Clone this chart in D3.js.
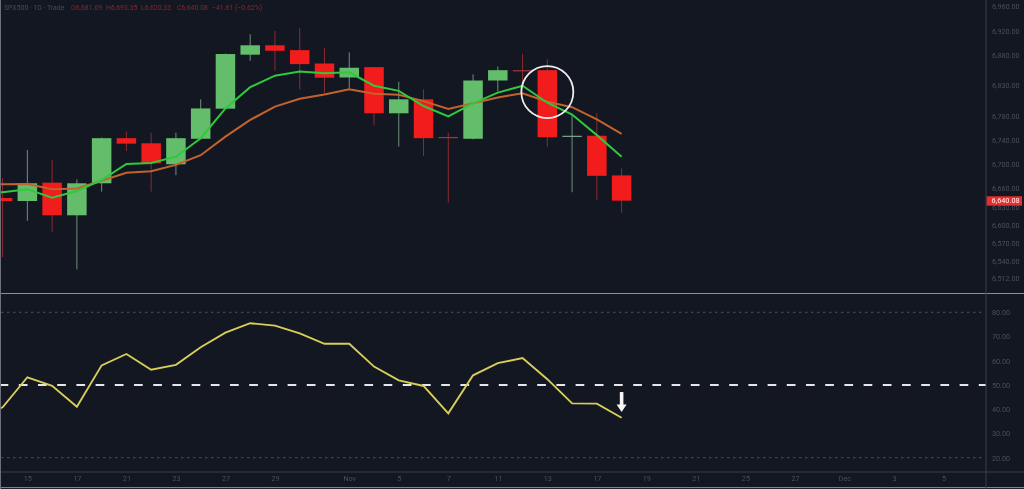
<!DOCTYPE html>
<html>
<head>
<meta charset="utf-8">
<script src="https://cdn.jsdelivr.net/npm/d3@7"></script>
<style>
  html, body { margin: 0; padding: 0; background: #131722; overflow: hidden; }
  svg { display: block; font-family: Roboto, "Liberation Sans", sans-serif; filter: blur(0.4px); }
</style>
</head>
<body>
<svg id="chart" width="1024" height="489"></svg>
<script>
const opens  = [6644.5, 6639.5, 6669.7, 6616, 6668.7, 6743, 6734.6, 6700, 6742, 6791.6, 6880.5, 6896, 6888, 6866, 6843, 6860, 6784, 6807, 6745, 6742, 6838, 6855, 6855, 6746, 6747, 6681.69];
const highs  = [6677, 6723.5, 6707, 6675, 6744, 6754, 6752, 6752, 6807, 6882.5, 6914, 6919.5, 6924, 6891, 6884.4, 6860, 6836, 6823.5, 6752, 6848, 6861, 6881.6, 6873, 6781, 6784, 6693.35];
const lows   = [6547, 6607, 6589, 6527, 6655, 6722, 6655, 6682, 6741, 6791, 6870.6, 6854, 6823.5, 6817, 6825, 6765, 6729, 6713.6, 6637, 6741, 6820, 6826, 6729, 6654, 6641, 6620.33];
const closes = [6639.5, 6668.7, 6616, 6668.7, 6743, 6734, 6701.6, 6743, 6792, 6881.6, 6896, 6887, 6865, 6842.6, 6859, 6784, 6807, 6743, 6743, 6838, 6855, 6853.5, 6744.5, 6747, 6681, 6640.08];
// the three line series start one session before the first candle, just off the left edge
const fastMa = [6652, 6654, 6659, 6645, 6656, 6674, 6700.5, 6702, 6712.5, 6743, 6792, 6827, 6846, 6853, 6850, 6851.5, 6829.4, 6821, 6796, 6779, 6800.4, 6818, 6829.4, 6801.4, 6782, 6748, 6712.5];
const slowMa = [6667, 6667, 6667.5, 6659, 6660, 6673, 6686, 6688.5, 6699, 6715, 6745.5, 6773, 6795, 6808, 6815, 6823.5, 6816, 6814.6, 6804, 6791, 6800.4, 6810, 6817, 6803, 6794, 6774, 6750];
const rsi    = [36, 40.8, 53.2, 49.7, 41, 58.1, 62.8, 56.3, 58.3, 65.6, 71.6, 75.5, 74.5, 71.3, 67, 67, 57.6, 51.9, 49.6, 38.3, 54, 59, 61.1, 52.4, 42.4, 42.3, 36.5];

const priceTicks = [6960, 6920, 6880, 6830, 6780, 6740, 6700, 6660, 6630, 6600, 6570, 6540, 6512];
const rsiTicks = [80, 70, 60, 50, 40, 30, 20];
const dateTicks = [1, 3, 5, 7, 9, 11, 14, 16, 18, 20, 22, 24, 26, 28, 30, 32, 34, 36, 38];
const dateLabels = ["15", "17", "21", "23", "27", "29", "Nov", "5", "7", "11", "13", "17", "19", "21", "25", "27", "Dec", "3", "5"];
const lastPrice = 6640.08;

const svg = d3.select("#chart");
const width = 1024, height = 489;
const axisX = 986, paneSplit = 293.5, timeLine = 472;

const x = d3.scaleLinear().domain([0, 38]).range([2.6, 943.5]);
const y = d3.scaleLinear().domain([6880, 6600]).range([55, 225]);
const yRsi = d3.scaleLinear().domain([80, 20]).range([312.3, 457.7]);
const fmt = d3.format(",.2f");
const bodyW = 19.5;

const defs = svg.append("defs");
defs.append("clipPath").attr("id", "plot")
  .append("rect").attr("x", 1).attr("y", 0).attr("width", axisX - 1).attr("height", paneSplit);
defs.append("clipPath").attr("id", "plot-rsi")
  .append("rect").attr("x", 1).attr("y", paneSplit).attr("width", axisX - 1).attr("height", timeLine - paneSplit);

svg.append("rect").attr("width", width).attr("height", height).attr("fill", "#131722");

// candles
const candles = svg.append("g").attr("clip-path", "url(#plot)")
  .selectAll("g").data(opens.map((o, i) => i)).enter().append("g");

candles.append("line")
  .attr("x1", i => x(i)).attr("x2", i => x(i))
  .attr("y1", i => y(highs[i])).attr("y2", i => y(lows[i]))
  .attr("stroke", i => closes[i] >= opens[i] ? "#6f8f7b" : "#8c2a30")
  .attr("stroke-width", 1);

candles.append("rect")
  .attr("x", i => x(i) - bodyW / 2)
  .attr("width", bodyW)
  .attr("y", i => y(Math.max(opens[i], closes[i])))
  .attr("height", i => Math.max(1.2, Math.abs(y(opens[i]) - y(closes[i]))))
  .attr("fill", i => {
    if (Math.abs(opens[i] - closes[i]) < 3) return closes[i] >= opens[i] ? "#7fa88c" : "#a8343a";
    return closes[i] >= opens[i] ? "#63bd6b" : "#f21c1c";
  });

// moving averages
const line = d3.line().x((d, i) => x(i - 1)).y(d => y(d));
const plotG = svg.append("g").attr("clip-path", "url(#plot)");
plotG.append("path").datum(slowMa).attr("d", line)
  .attr("fill", "none").attr("stroke", "#c2632b").attr("stroke-width", 2);
plotG.append("path").datum(fastMa).attr("d", line)
  .attr("fill", "none").attr("stroke", "#2fc93c").attr("stroke-width", 2);

// circle around the candle
plotG.append("circle")
  .attr("cx", x(22)).attr("cy", y(6819)).attr("r", 26)
  .attr("fill", "none").attr("stroke", "#ececec").attr("stroke-width", 1.8);

// rsi levels
[80, 20].forEach(v => {
  svg.append("line").attr("x1", 1).attr("x2", 983)
    .attr("y1", yRsi(v)).attr("y2", yRsi(v))
    .attr("stroke", "#5a5e68").attr("stroke-width", 0.8).attr("stroke-dasharray", "2.5 3.5");
});
svg.append("line").attr("x1", 0).attr("x2", axisX)
  .attr("y1", yRsi(50)).attr("y2", yRsi(50))
  .attr("stroke", "#e6e6e6").attr("stroke-width", 2).attr("stroke-dasharray", "8.7 10.5")
  .attr("stroke-dashoffset", 0.4);

const rsiLine = d3.line().x((d, i) => x(i - 1)).y(d => yRsi(d));
svg.append("g").attr("clip-path", "url(#plot-rsi)")
  .append("path").datum(rsi).attr("d", rsiLine)
  .attr("fill", "none").attr("stroke", "#d8cd58").attr("stroke-width", 1.9);

// arrow
const arrowX = x(25);
svg.append("line").attr("x1", arrowX).attr("x2", arrowX)
  .attr("y1", yRsi(47.1)).attr("y2", yRsi(41.5))
  .attr("stroke", "#f5f5f5").attr("stroke-width", 3.6);
svg.append("path")
  .attr("d", d3.line()([[arrowX - 5, yRsi(42)], [arrowX + 5, yRsi(42)], [arrowX, yRsi(38.9)]]))
  .attr("fill", "#f5f5f5");

// frame lines
const frame = svg.append("g");
frame.append("line").attr("x1", 0).attr("x2", width).attr("y1", paneSplit).attr("y2", paneSplit)
  .attr("stroke", "#8b8e97").attr("stroke-width", 1);
frame.append("line").attr("x1", 0).attr("x2", width).attr("y1", timeLine).attr("y2", timeLine)
  .attr("stroke", "#3a3e49").attr("stroke-width", 1);
frame.append("line").attr("x1", 0).attr("x2", width).attr("y1", 487.6).attr("y2", 487.6)
  .attr("stroke", "#8b8e97").attr("stroke-width", 1);
frame.append("line").attr("x1", axisX).attr("x2", axisX).attr("y1", 0).attr("y2", height)
  .attr("stroke", "#3a3e49").attr("stroke-width", 1);
frame.append("line").attr("x1", 0.5).attr("x2", 0.5).attr("y1", 0).attr("y2", height)
  .attr("stroke", "#6c707a").attr("stroke-width", 1);

// axes
function styleAxis(g) {
  g.select(".domain").remove();
  g.selectAll("line").remove();
  g.selectAll("text").attr("fill", "#4b4f5a").style("font-size", "7.2px").style("font-family", "Roboto, sans-serif");
}
svg.append("g").attr("transform", `translate(${axisX + 6},0)`)
  .call(d3.axisRight(y).tickValues(priceTicks).tickFormat(fmt).tickSize(0).tickPadding(0))
  .call(styleAxis);
svg.append("g").attr("transform", `translate(${axisX + 6},0)`)
  .call(d3.axisRight(yRsi).tickValues(rsiTicks).tickFormat(d3.format(".2f")).tickSize(0).tickPadding(0))
  .call(styleAxis);
svg.append("g").attr("transform", `translate(0,${timeLine + 4})`)
  .call(d3.axisBottom(x).tickValues(dateTicks).tickFormat(d => dateLabels[dateTicks.indexOf(d)]).tickSize(0).tickPadding(0))
  .call(styleAxis);

// last price tag
svg.append("rect").attr("x", axisX + 0.7).attr("y", y(lastPrice) - 4.4)
  .attr("width", 35.3).attr("height", 9.4).attr("fill", "#e62e2e");
svg.append("text").attr("x", axisX + 5.5).attr("y", y(lastPrice) + 2.8)
  .attr("fill", "#ffd9d9").attr("font-weight", 500).attr("font-size", 7.2)
  .text(fmt(lastPrice));

// header legend
const header = svg.append("g").attr("font-size", 6.9);
header.append("text").attr("x", 4).attr("y", 10).attr("fill", "#474b56").text("SPX500 · 1D · Trade");
[["O6,681.69", 71], ["H6,693.35", 106], ["L6,620.33", 141], ["C6,640.08", 177], ["−41.61 (−0.62%)", 212]]
  .forEach(([t, px]) => {
    header.append("text").attr("x", px).attr("y", 10).attr("fill", "#85292f").text(t);
  });
</script>
</body>
</html>
